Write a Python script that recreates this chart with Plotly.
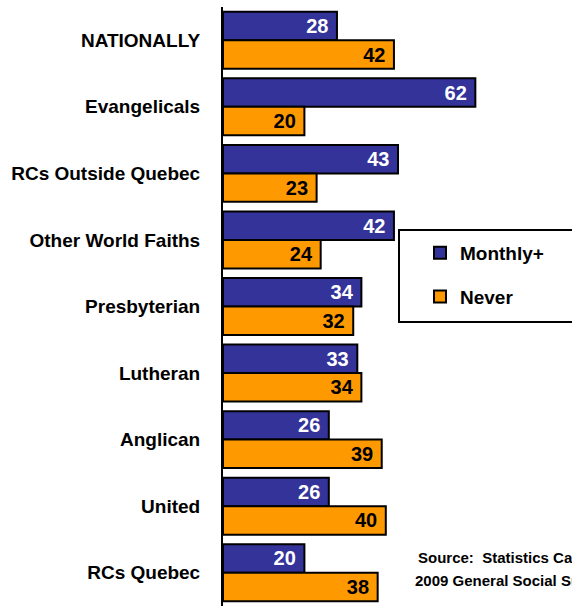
import plotly.graph_objects as go

categories = ["NATIONALLY", "Evangelicals", "RCs Outside Quebec", "Other World Faiths",
              "Presbyterian", "Lutheran", "Anglican", "United", "RCs Quebec"]
monthly = [28, 62, 43, 42, 34, 33, 26, 26, 20]
never = [42, 20, 23, 24, 32, 34, 39, 40, 38]
source_lines = ["Source:\u00a0 Statistics Canada", "2009 General Social Survey"]

FONT = "Liberation Sans, Arial, sans-serif"

W, H = 572, 606
L, T = 223, 7
pw, ph = W - L, H - T

def px(x):
    return (x - L) / pw

def py(y):
    return (H - y) / ph

fig = go.Figure()
fig.add_trace(go.Bar(
    y=categories, x=monthly, orientation="h", name="Monthly+",
    legendgroup="a",
    marker=dict(color="#333399", line=dict(color="black", width=2)),
    text=monthly, texttemplate="%{x}\u00a0", textposition="inside",
    insidetextanchor="end", constraintext="none",
    textfont=dict(family=FONT, size=20, color="white", weight="bold"),
))
fig.add_trace(go.Bar(
    y=categories, x=never, orientation="h", name="Never",
    legendgroup="b",
    marker=dict(color="#FF9900", line=dict(color="black", width=2)),
    text=never, texttemplate="%{x}\u00a0", textposition="inside",
    insidetextanchor="end", constraintext="none",
    textfont=dict(family=FONT, size=20, color="black", weight="bold"),
))

fig.update_layout(
    width=W, height=H,
    margin=dict(l=L, r=0, t=T, b=0, autoexpand=False),
    paper_bgcolor="white", plot_bgcolor="white",
    barmode="group", bargap=0.144, bargroupgap=0,
    uniformtext=dict(minsize=20, mode="show"),
    showlegend=True,
    legend=dict(
        x=px(420), y=py(234), xanchor="left", yanchor="top",
        font=dict(family=FONT, size=19, color="black", weight="bold"),
        bgcolor="rgba(0,0,0,0)", borderwidth=0,
        traceorder="grouped", tracegroupgap=16,
    ),
    xaxis=dict(range=[0, pw / 4.07], visible=False, fixedrange=True),
    yaxis=dict(
        autorange="reversed", showline=True, linecolor="black", linewidth=2,
        ticks="", showgrid=False, zeroline=False, ticklabelstandoff=17,
        automargin=False,
        tickfont=dict(family=FONT, size=19, color="black", weight="bold"),
    ),
    shapes=[dict(type="rect", xref="paper", yref="paper",
                 x0=px(399), x1=px(620), y0=py(322), y1=py(230),
                 line=dict(color="black", width=2), fillcolor="rgba(0,0,0,0)")],
    annotations=[
        dict(xref="paper", yref="paper", x=px(513), y=py(yc),
             xanchor="center", yanchor="middle", showarrow=False, text=t,
             font=dict(family=FONT, size=15, color="black", weight="bold"))
        for t, yc in zip(source_lines, [557, 580])
    ],
)

fig.write_html("out.html", config={"displayModeBar": False},
               post_script="document.body.style.margin='0';")
